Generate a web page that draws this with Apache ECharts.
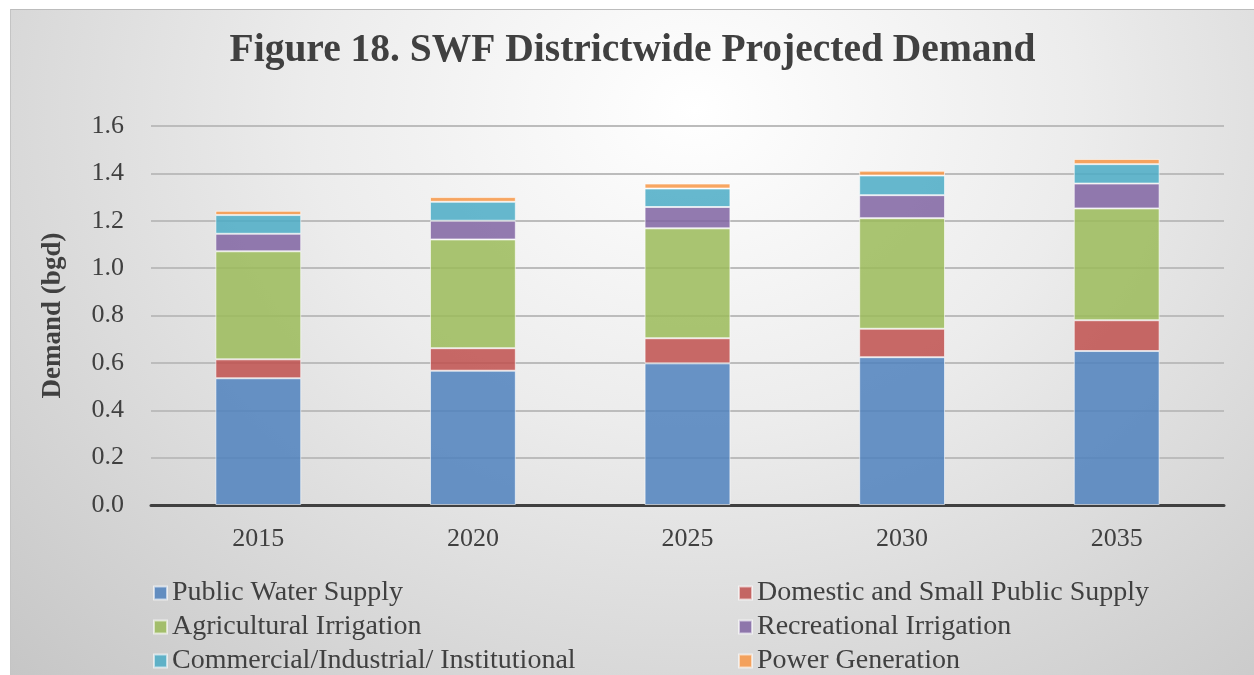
<!DOCTYPE html>
<html>
<head>
<meta charset="utf-8">
<script src="https://cdn.jsdelivr.net/npm/echarts@6/dist/echarts.min.js"></script>
<style>
  html, body { margin: 0; padding: 0; background: #fff; }
  #chart {
    position: absolute;
    left: 10px;
    top: 9px;
    width: 1244px;
    height: 666px;
    border-top: 1px solid #bcbcbc;
    border-left: 1px solid #c4c4c4;
    box-sizing: border-box;
    background: radial-gradient(ellipse farthest-corner at 55% 15%, #ffffff 0%, #ececec 40%, #c6c6c6 100%);
  }
</style>
</head>
<body>
<div id="chart"></div>
<script>
const years = ["2015", "2020", "2025", "2030", "2035"];
const seriesNames = [
  "Public Water Supply",
  "Domestic and Small Public Supply",
  "Agricultural Irrigation",
  "Recreational Irrigation",
  "Commercial/Industrial/ Institutional",
  "Power Generation",
];
const publicWater = [0.535, 0.567, 0.598, 0.624, 0.650];
const domestic = [0.080, 0.095, 0.106, 0.120, 0.130];
const agricultural = [0.456, 0.459, 0.464, 0.467, 0.472];
const recreational = [0.074, 0.079, 0.090, 0.097, 0.105];
const commercial = [0.079, 0.080, 0.078, 0.083, 0.082];
const power = [0.018, 0.020, 0.021, 0.020, 0.022];
const colors = ["#4F81BD", "#C0504D", "#9BBB59", "#8064A2", "#4BACC6", "#F79646"];

const serif = "'Liberation Serif', 'DejaVu Serif', serif";
const textColor = "#404040";

var chartDom = document.getElementById("chart");
var myChart = echarts.init(chartDom);
var option;

const values = [publicWater, domestic, agricultural, recreational, commercial, power];

// two vertical legends so the columns line up like the original
const legendCommon = {
  orient: "vertical",
  top: 569,
  height: 110,
  padding: 0,
  itemWidth: 13,
  itemHeight: 13,
  itemGap: 6,
  icon: "rect",
  textStyle: { fontFamily: serif, fontSize: 28, lineHeight: 28, color: textColor },
};

option = {
  backgroundColor: "transparent",
  animation: false,
  title: {
    text: "Figure 18. SWF Districtwide Projected Demand",
    left: "center",
    top: 16,
    textStyle: {
      fontFamily: serif,
      fontWeight: "bold",
      fontSize: 39.5,
      color: textColor,
    },
  },
  legend: [
    Object.assign({}, legendCommon, {
      left: 142,
      data: [seriesNames[0], seriesNames[2], seriesNames[4]],
    }),
    Object.assign({}, legendCommon, {
      left: 727,
      data: [seriesNames[1], seriesNames[3], seriesNames[5]],
    }),
  ],
  grid: {
    left: 140,
    right: 30,
    top: 116,
    bottom: 170,
  },
  xAxis: {
    type: "category",
    data: years,
    axisLine: { lineStyle: { color: "#404040", width: 3 } },
    axisTick: { show: false },
    axisLabel: { fontFamily: serif, fontSize: 26, color: textColor, margin: 21 },
  },
  yAxis: {
    type: "value",
    min: 0,
    max: 1.6,
    interval: 0.2,
    name: "Demand (bgd)",
    nameLocation: "middle",
    nameGap: 84,
    nameTextStyle: { fontFamily: serif, fontWeight: "bold", fontSize: 27, color: textColor },
    axisLine: { show: false },
    axisTick: { show: false },
    axisLabel: {
      fontFamily: serif,
      fontSize: 26,
      color: textColor,
      margin: 27,
      formatter: (v) => v.toFixed(1),
    },
    splitLine: { lineStyle: { color: "#bcbcbc", width: 2 } },
  },
  series: seriesNames.map((name, i) => ({
    name: name,
    type: "bar",
    stack: "total",
    barWidth: "40%",
    itemStyle: {
      color: colors[i],
      opacity: 0.85,
      borderColor: "rgba(255,255,255,0.7)",
      borderWidth: 1,
    },
    data: values[i],
  })),
};

option && myChart.setOption(option);
</script>
</body>
</html>
